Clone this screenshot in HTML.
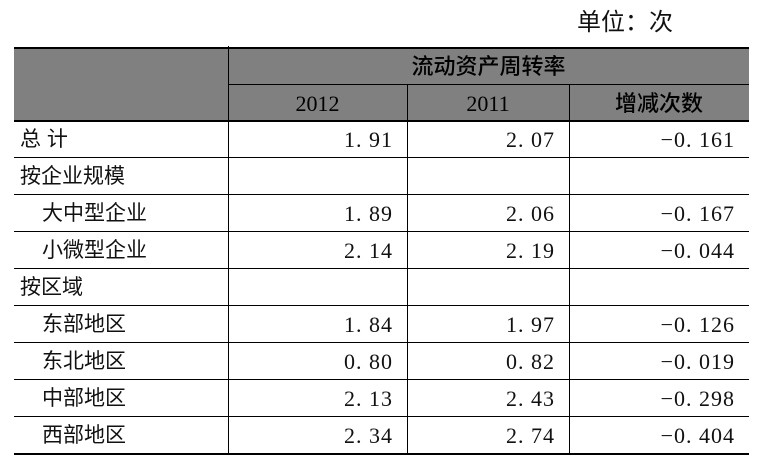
<!DOCTYPE html>
<html><head><meta charset="utf-8"><style>
body{margin:0;width:763px;height:467px;background:#fff;position:relative;overflow:hidden;font-family:"Liberation Serif","Noto Serif CJK SC",serif;color:#111}
.a{position:absolute}
.h{position:absolute;height:2px;background:#000}
.v{position:absolute;width:1px;background:#000}
.t{position:absolute;font-size:21px;line-height:37px;white-space:nowrap}
.n{position:absolute;font-size:22px;line-height:37px;text-align:right;letter-spacing:1px}
.hd{font-size:22px;color:#000;font-weight:500}
</style></head><body>
<div class="t" style="left:577px;top:4px;font-size:24px;font-family:'Liberation Sans','Noto Sans CJK SC',sans-serif">单位：次</div>
<div class="a" style="left:14px;top:48px;width:735px;height:73px;background:#808080"></div>
<div class="h" style="left:14px;top:47px;width:735px"></div>
<div class="h" style="left:228px;top:84px;width:521px;height:1px"></div>
<div class="h" style="left:14px;top:120px;width:735px"></div>
<div class="h" style="left:14px;top:453px;width:735px"></div>
<div class="v" style="left:228px;top:46px;height:408px"></div>
<div class="v" style="left:407px;top:85px;height:369px"></div>
<div class="v" style="left:569px;top:85px;height:369px"></div>
<div class="t hd" style="left:228px;width:521px;top:48px;text-align:center;font-family:'Liberation Sans','Noto Sans CJK SC',sans-serif">流动资产周转率</div>
<div class="t hd" style="left:228px;width:179px;top:85px;text-align:center">2012</div>
<div class="t hd" style="left:407px;width:162px;top:85px;text-align:center">2011</div>
<div class="t hd" style="left:569px;width:180px;top:85px;text-align:center;font-family:'Liberation Sans','Noto Sans CJK SC',sans-serif">增减次数</div>
<div id="rows"></div>
<script>
const labels=["总 计","按企业规模","大中型企业","小微型企业","按区域","东部地区","东北地区","中部地区","西部地区"];
const indent=[0,0,1,1,0,1,1,1,1];
const v2012=["1.91","","1.89","2.14","","1.84","0.80","2.13","2.34"];
const v2011=["2.07","","2.06","2.19","","1.97","0.82","2.43","2.74"];
const vchg=["−0.161","","−0.167","−0.044","","−0.126","−0.019","−0.298","−0.404"];
const root=document.getElementById('rows');
labels.forEach((l,i)=>{
  const top=121+i*37;
  const r=document.createElement('div');
  r.className='a';r.style.cssText=`left:0;top:${top}px;width:763px;height:37px`;
  
  
  const lab=document.createElement('div');lab.className='t';
  lab.style.cssText=`left:${indent[i]?42:20}px;top:0;font-family:'Liberation Sans','Noto Sans CJK SC',sans-serif`;
  lab.textContent=l;
  
  
  r.appendChild(lab);
  [[v2012[i],228,407],[v2011[i],407,569],[vchg[i],569,749]].forEach(([v,x0,x1])=>{
    const c=document.createElement('div');c.className='n';
    c.style.cssText=`left:${x0}px;width:${x1-x0-14}px;top:0`;
    c.textContent=v.replace('.','. ');
    
    
    r.appendChild(c);
  });
  root.appendChild(r);
  if(i<labels.length-1){
    const h=document.createElement('div');h.className='h';
    h.style.cssText=`left:14px;top:${top+36}px;width:735px;height:1px`;
    
    
    root.appendChild(h);
  }
});
</script>
</body></html>
